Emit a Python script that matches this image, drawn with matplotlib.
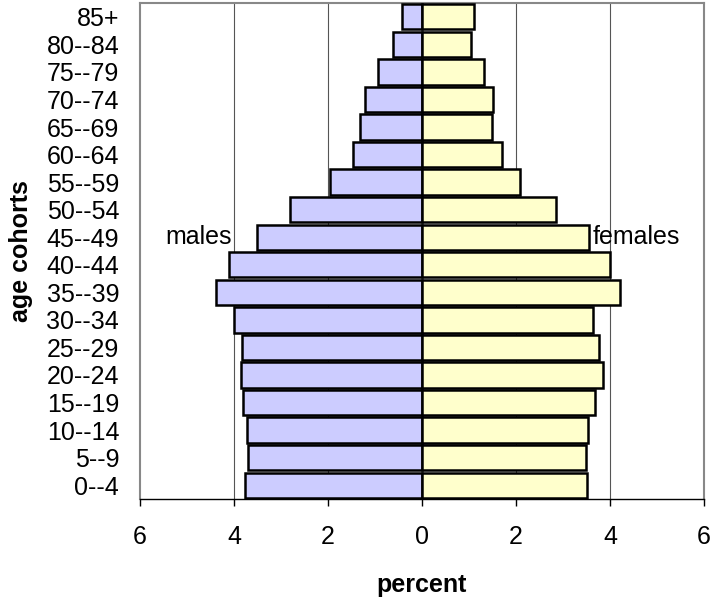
import matplotlib
matplotlib.use("Agg")
import matplotlib.pyplot as plt
import numpy as np

plt.rcParams['font.family'] = ['Liberation Sans', 'DejaVu Sans']

cohorts = ["0--4", "5--9", "10--14", "15--19", "20--24", "25--29", "30--34",
           "35--39", "40--44", "45--49", "50--54", "55--59", "60--64",
           "65--69", "70--74", "75--79", "80--84", "85+"]
males = [3.77, 3.71, 3.72, 3.81, 3.86, 3.84, 4.01, 4.39, 4.11, 3.51,
         2.81, 1.96, 1.47, 1.32, 1.21, 0.93, 0.61, 0.43]
females = [3.51, 3.49, 3.54, 3.68, 3.86, 3.77, 3.63, 4.21, 4.00, 3.56,
           2.85, 2.08, 1.70, 1.49, 1.51, 1.32, 1.05, 1.10]
xticks = [-6, -4, -2, 0, 2, 4, 6]
xticklabels = ["6", "4", "2", "0", "2", "4", "6"]

fig = plt.figure(figsize=(7.10, 5.99), dpi=100)
ax = fig.add_axes([140/710, 100/599, 564/710, 496/599])

y = np.arange(len(cohorts))
ax.barh(y, [-m for m in males], height=0.92, color="#ccccff",
        edgecolor="black", linewidth=1.8, zorder=3)
ax.barh(y, females, height=0.92, color="#ffffcc",
        edgecolor="black", linewidth=1.8, zorder=3)

ax.set_xlim(-6, 6)
ax.set_ylim(-0.5, len(cohorts) - 0.5)
for gx in [-4, -2, 2, 4]:
    ax.axvline(gx, color="#555555", linewidth=0.8, zorder=1)

ax.set_xticks(xticks)
ax.set_xticklabels(xticklabels, fontsize=18)
ax.set_yticks(y)
ax.set_yticklabels(cohorts, fontsize=18)
ax.tick_params(axis='y', length=0, pad=15)
ax.tick_params(axis='x', length=5, width=1, direction='out', pad=14, color="black")

for side in ['left', 'top', 'right']:
    ax.spines[side].set_color("#888888")
    ax.spines[side].set_linewidth(1.5)
ax.spines['bottom'].set_color("black")
ax.spines['bottom'].set_linewidth(1.0)

ax.text(-4.05, 9, "males", fontsize=18, ha="right", va="center", zorder=5)
ax.text(3.62, 9, "females", fontsize=18, ha="left", va="center", zorder=5)

ax.set_xlabel("percent", fontsize=18, fontweight="bold", labelpad=17)
ax.set_ylabel("age cohorts", fontsize=18, fontweight="bold", labelpad=10)

fig.savefig("out.png", dpi=100)
